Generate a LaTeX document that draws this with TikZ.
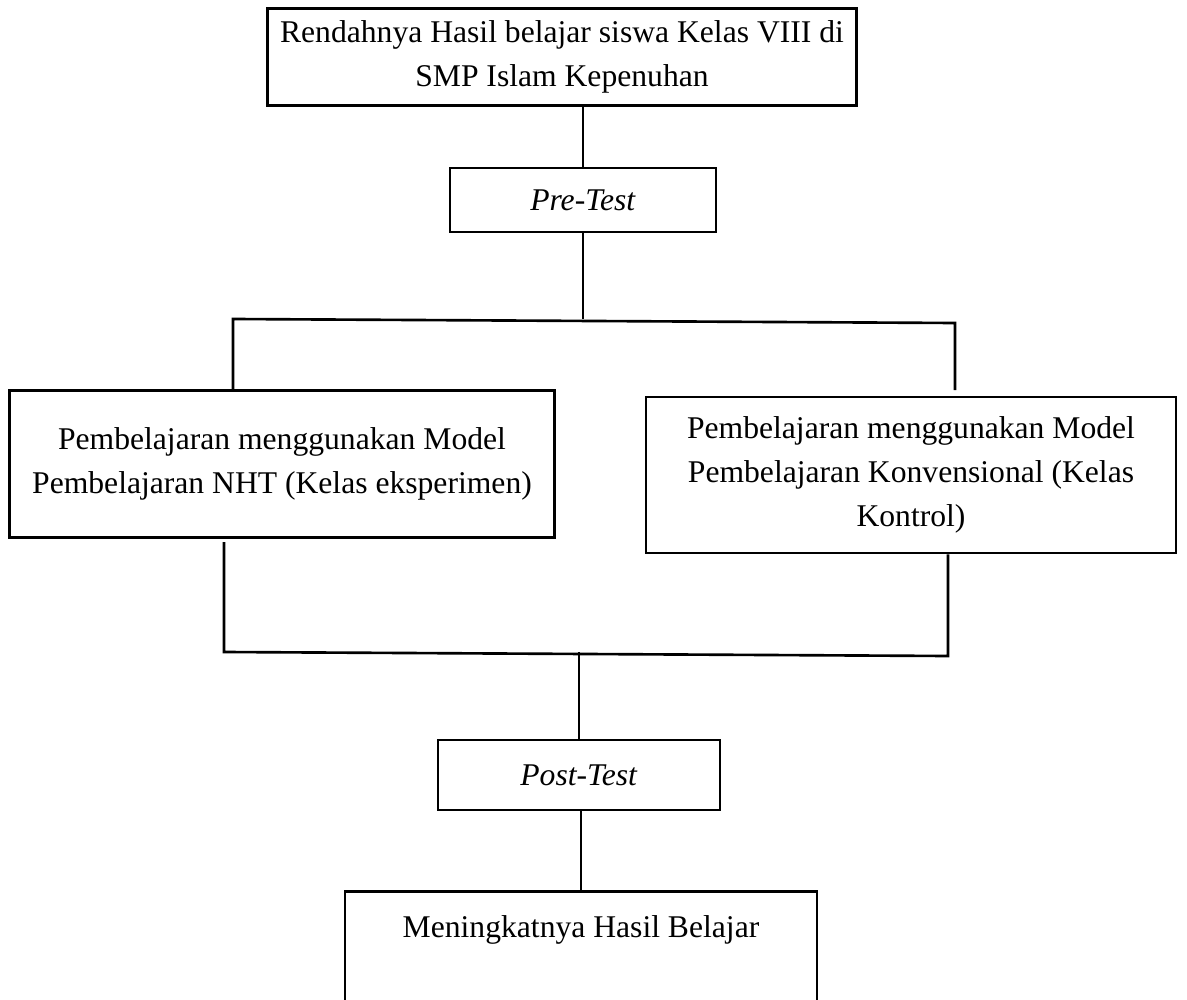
\documentclass[tikz,border=0pt]{standalone}
\usepackage{fontspec}
\setmainfont{Liberation Serif}

\begin{document}
\begin{tikzpicture}
	[x=0.02cm, y=-0.02cm,
	every node/.style={font=\fontsize{18}{25}\selectfont},
	kotak/.style={draw, line width=1.5pt, align=center, inner sep=0pt},
	garis/.style={line width=1.5pt}]
	\clip (0,0) rectangle (1187,1000);

	\node[kotak, minimum width=11.78cm, minimum height=1.94cm] (masalah) at (562,57)
		{Rendahnya Hasil belajar siswa Kelas VIII di\\SMP Islam Kepenuhan};
	\node[kotak, minimum width=5.32cm, minimum height=1.28cm] (pretest) at (583,200) {\textit{Pre-Test}};
	\node[kotak, minimum width=10.9cm, minimum height=2.94cm] (kiri) at (282,464)
		{Pembelajaran menggunakan Model\\Pembelajaran NHT (Kelas eksperimen)};
	\node[kotak, minimum width=10.6cm, minimum height=3.12cm] (kanan) at (911,475)
		{Pembelajaran menggunakan Model\\Pembelajaran Konvensional (Kelas\\Kontrol)};
	\node[kotak, minimum width=5.64cm, minimum height=1.4cm] (posttest) at (579,775) {\textit{Post-Test}};
	\node[kotak, anchor=north, minimum width=9.44cm, inner ysep=14pt, text depth=1.9cm] (hasil) at (581,890)
		{Meningkatnya Hasil Belajar};

	% cabang ke dua kelas
	\coordinate (cabA) at (233,319);
	\coordinate (cabB) at (955,323);
	\coordinate (ujungB) at (955,390);
	\coordinate (awalA) at (224,542);
	\coordinate (gabA) at (224,652);
	\coordinate (gabB) at (948,656);

	\draw[garis] (pretest.north |- masalah.south) -- (pretest.north);
	\draw[garis] (pretest.south) -- (pretest.south |- cabA);
	\draw[garis] (cabA |- kiri.north) -- (cabA) -- (cabB) -- (ujungB);
	\draw[garis] (awalA) -- (gabA) -- (gabB) -- (gabB |- kanan.south);
	\draw[garis] (posttest.north |- gabA) -- (posttest.north);
	\draw[garis] (hasil.north |- posttest.south) -- (hasil.north);

\end{tikzpicture}
\end{document}
